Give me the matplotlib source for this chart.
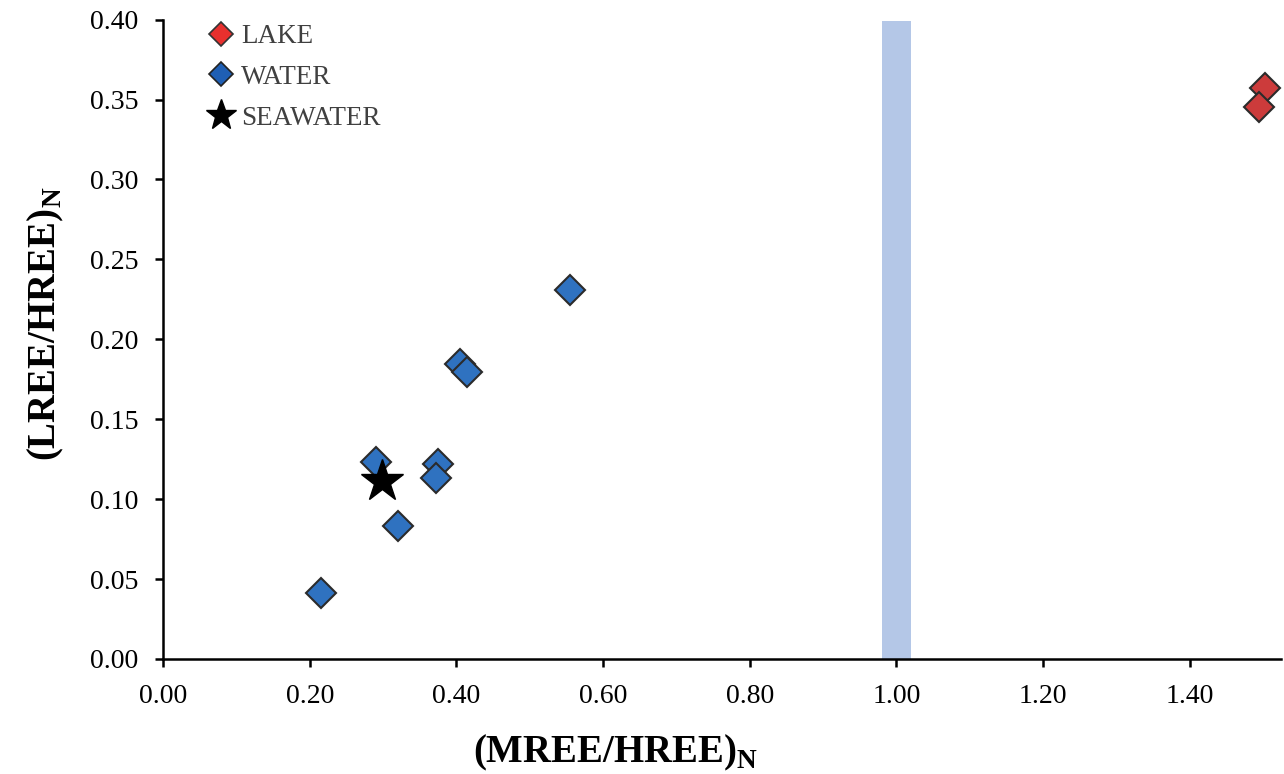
import matplotlib
matplotlib.use("Agg")
import matplotlib.pyplot as plt
from matplotlib.lines import Line2D

lake_x = [1.503, 1.494]
lake_y = [0.3575, 0.3456]
water_x = [0.555, 0.405, 0.415, 0.291, 0.375, 0.372, 0.321, 0.2155]
water_y = [0.231, 0.1847, 0.1797, 0.1234, 0.1221, 0.1133, 0.0833, 0.0413]
sea_x = [0.299]
sea_y = [0.1115]
band_x = [0.981, 1.020]
band_y = [0.0, 0.399]
xticks = [0.0, 0.2, 0.4, 0.6, 0.8, 1.0, 1.2, 1.4]
yticks = [0.0, 0.05, 0.10, 0.15, 0.20, 0.25, 0.30, 0.35, 0.40]

plt.rcParams['font.family'] = ['Liberation Serif', 'DejaVu Serif']
fig = plt.figure(figsize=(12.84, 7.74), dpi=100)
ax = fig.add_axes([0.127, 0.1486, 0.871, 0.826])

ax.fill_between(band_x, band_y[0], band_y[1], color='#b4c7e7', lw=0, zorder=1)

ms = 15
ax.plot(water_x, water_y, 'D', ms=ms, mfc='#2f72c0', mec='#2b2b2b', mew=1.5, zorder=3, ls='none')
ax.plot(lake_x, lake_y, 'D', ms=ms, mfc='#cc3b3b', mec='#2b2b2b', mew=1.5, zorder=3, ls='none')
ax.plot(sea_x, sea_y, '*', ms=32, mfc='black', mec='black', zorder=4, ls='none')

ax.set_xlim(0, 1.525)
ax.set_ylim(0, 0.40)
ax.set_xticks(xticks)
ax.set_yticks(yticks)
ax.set_xticklabels([f"{v:.2f}" for v in xticks])
ax.set_yticklabels([f"{v:.2f}" for v in yticks])
ax.tick_params(axis='both', labelsize=20, direction='out', length=6, width=1.8, colors='black')
ax.tick_params(axis='y', pad=12)
ax.tick_params(axis='x', pad=12)
for s in ['top', 'right']:
    ax.spines[s].set_visible(False)
for s in ['left', 'bottom']:
    ax.spines[s].set_linewidth(1.8)

ax.set_xlabel(r'(MREE/HREE)$_{\mathregular{N}}$', fontsize=28, fontweight='bold')
ax.set_ylabel(r'(LREE/HREE)$_{\mathregular{N}}$', fontsize=28, fontweight='bold')
ax.xaxis.set_label_coords(0.405, -0.115)
ax.yaxis.set_label_coords(-0.087, 0.524)

handles = [
    Line2D([], [], marker='D', ls='none', ms=12, mfc='#e8302e', mec='#333333', mew=1.2, label='LAKE'),
    Line2D([], [], marker='D', ls='none', ms=12, mfc='#1f5fb4', mec='#222222', mew=1.2, label='WATER'),
    Line2D([], [], marker='*', ls='none', ms=23, mfc='black', mec='black', label='SEAWATER'),
]
leg = ax.legend(handles=handles, loc='upper left', bbox_to_anchor=(0.024, 1.01), frameon=False,
                fontsize=19.5, handletextpad=0.0, labelspacing=0.58, handlelength=1.5, borderaxespad=0)
for t in leg.get_texts():
    t.set_color('#404040')

fig.savefig('out.png', dpi=100)
